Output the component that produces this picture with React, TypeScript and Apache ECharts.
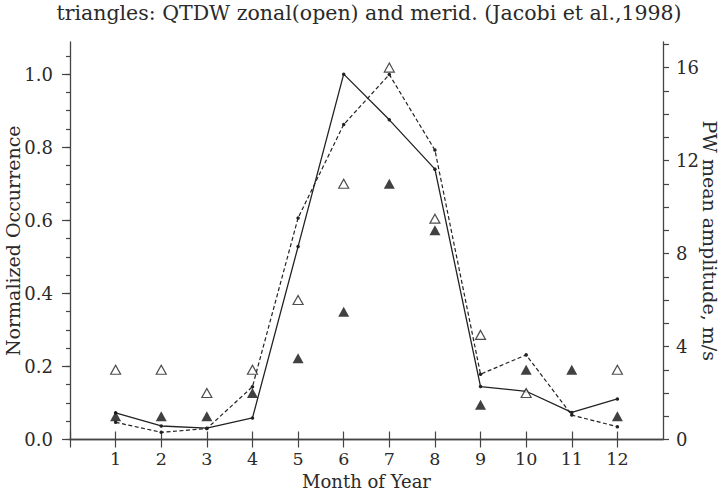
import React, { useEffect, useRef } from "react";
import * as echarts from "echarts";

const months = [1, 2, 3, 4, 5, 6, 7, 8, 9, 10, 11, 12];
const occurrence = [0.073, 0.037, 0.031, 0.059, 0.528, 1.0, 0.875, 0.74, 0.145, 0.132, 0.074, 0.111];
const pwAmplitude = [0.74, 0.31, 0.47, 2.27, 9.53, 13.55, 15.7, 12.45, 2.81, 3.64, 1.05, 0.55];
const qtdwZonal: (number | null)[] = [3, 3, 2, 3, 6, 11, 16, 9.5, 4.5, 2, null, 3];
const qtdwMerid = [1, 1, 1, 2, 3.5, 5.5, 11, 9, 1.5, 3, 3, 1];

const xTickValues = [0, 1, 2, 3, 4, 5, 6, 7, 8, 9, 10, 11, 12];
const xLabelValues = [1, 2, 3, 4, 5, 6, 7, 8, 9, 10, 11, 12];
const leftLabelValues = [0, 0.2, 0.4, 0.6, 0.8, 1.0];
const leftMinorTicks = [0, 0.05, 0.1, 0.15, 0.2, 0.25, 0.3, 0.35, 0.4, 0.45, 0.5, 0.55, 0.6, 0.65, 0.7, 0.75, 0.8, 0.85, 0.9, 0.95, 1.0, 1.05];
const rightLabelValues = [0, 4, 8, 12, 16];
const rightTicks = [0, 1, 2, 3, 4, 5, 6, 7, 8, 9, 10, 11, 12, 13, 14, 15, 16, 17];

const TITLE = "triangles: QTDW zonal(open) and merid. (Jacobi et al.,1998)";
const FONT = "'DejaVu Serif', serif";
const INK = "#2a2a2a";
const AXIS = "#444";

export default function App() {
  const ref = useRef<HTMLDivElement>(null);
  useEffect(() => {
    document.body.style.margin = "0";
    const chart = echarts.init(ref.current!, null, { renderer: "svg" });
    const pair = (ys: (number | null)[]) => months.map((m, i) => [m, ys[i]]).filter((p) => p[1] !== null);
    const axisLine = { show: true, lineStyle: { color: AXIS, width: 1.3 } };
    const nameStyle = { fontSize: 19, fontFamily: FONT, color: INK };
    chart.setOption({
      animation: false,
      backgroundColor: "#fff",
      grid: { left: 70, right: 58, top: 42, bottom: 51.5, containLabel: false, outerBoundsMode: "none" },
      graphic: [
        {
          type: "text",
          x: 369,
          y: 13,
          style: {
            text: TITLE,
            fontSize: 20.5,
            fontFamily: FONT,
            fill: INK,
            textAlign: "center",
            textVerticalAlign: "middle",
            align: "center",
            verticalAlign: "middle",
          },
        },
      ],
      xAxis: [
        {
          type: "value",
          position: "bottom",
          min: 0,
          max: 13,
          interval: 1,
          axisLine,
          axisTick: { show: true, inside: false, length: 8, customValues: xTickValues, lineStyle: { color: AXIS, width: 1.2 } },
          axisLabel: { customValues: xLabelValues, margin: 11, fontSize: 17.5, lineHeight: 17, fontFamily: FONT, color: INK },
          splitLine: { show: false },
          name: "Month of Year",
          nameLocation: "middle",
          nameGap: 33,
          nameMoveOverlap: false,
          nameTextStyle: { fontSize: 18, lineHeight: 18, fontFamily: FONT, color: INK },
        },
        {
          type: "value",
          position: "top",
          min: 0,
          max: 13,
          interval: 1,
          axisLine,
          axisTick: { show: true, inside: false, length: 8, customValues: xTickValues, lineStyle: { color: AXIS, width: 1.2 } },
          axisLabel: { show: false },
          splitLine: { show: false },
        },
      ],
      yAxis: [
        {
          type: "value",
          position: "left",
          min: 0,
          max: 1.088,
          interval: 0.2,
          axisLine,
          axisTick: { show: true, inside: false, length: 4, customValues: leftMinorTicks, lineStyle: { color: AXIS, width: 1.2 } },
          axisLabel: {
            customValues: leftLabelValues,
            formatter: (v: number) => v.toFixed(1),
            margin: 17,
            fontSize: 18,
            fontFamily: FONT,
            color: INK,
          },
          splitLine: { show: false },
          name: "Normalized Occurrence",
          nameLocation: "middle",
          nameGap: 48,
          nameMoveOverlap: false,
          nameTextStyle: nameStyle,
        },
        {
          type: "value",
          position: "left",
          min: 0,
          max: 1.088,
          interval: 0.2,
          axisLine: { show: false },
          axisTick: { show: true, inside: false, length: 8, customValues: leftLabelValues, lineStyle: { color: AXIS, width: 1.2 } },
          axisLabel: { show: false },
          splitLine: { show: false },
        },
        {
          type: "value",
          position: "right",
          min: 0,
          max: 17.1,
          interval: 4,
          axisLine,
          axisTick: { show: true, inside: false, length: 6, customValues: rightTicks, lineStyle: { color: AXIS, width: 1.2 } },
          axisLabel: { customValues: rightLabelValues, margin: 13, fontSize: 18, fontFamily: FONT, color: INK },
          splitLine: { show: false },
          name: "PW mean amplitude, m/s",
          nameLocation: "middle",
          nameRotate: -90,
          nameGap: 37,
          nameMoveOverlap: false,
          nameTextStyle: nameStyle,
        },
      ],
      series: [
        {
          type: "line",
          name: "occurrence",
          xAxisIndex: 0,
          yAxisIndex: 0,
          data: pair(occurrence),
          symbol: "circle",
          symbolSize: 3.5,
          lineStyle: { color: "#222", width: 1.3 },
          itemStyle: { color: "#222" },
          z: 3,
        },
        {
          type: "line",
          name: "PW amplitude",
          xAxisIndex: 0,
          yAxisIndex: 2,
          data: pair(pwAmplitude),
          symbol: "circle",
          symbolSize: 3.5,
          lineStyle: { color: "#222", width: 1.2, type: [4, 2.5] },
          itemStyle: { color: "#222" },
          z: 3,
        },
        {
          type: "scatter",
          name: "QTDW zonal",
          xAxisIndex: 0,
          yAxisIndex: 2,
          data: pair(qtdwZonal),
          symbol: "triangle",
          symbolSize: [10, 9],
          itemStyle: { color: "#fff", borderColor: "#222", borderWidth: 1.2 },
          z: 4,
        },
        {
          type: "scatter",
          name: "QTDW merid",
          xAxisIndex: 0,
          yAxisIndex: 2,
          data: pair(qtdwMerid),
          symbol: "triangle",
          symbolSize: [11, 10],
          itemStyle: { color: "#111" },
          z: 5,
        },
      ],
    });
    return () => chart.dispose();
  }, []);
  return <div ref={ref} style={{ position: "absolute", left: 0, top: 0, width: 721, height: 491 }} />;
}
